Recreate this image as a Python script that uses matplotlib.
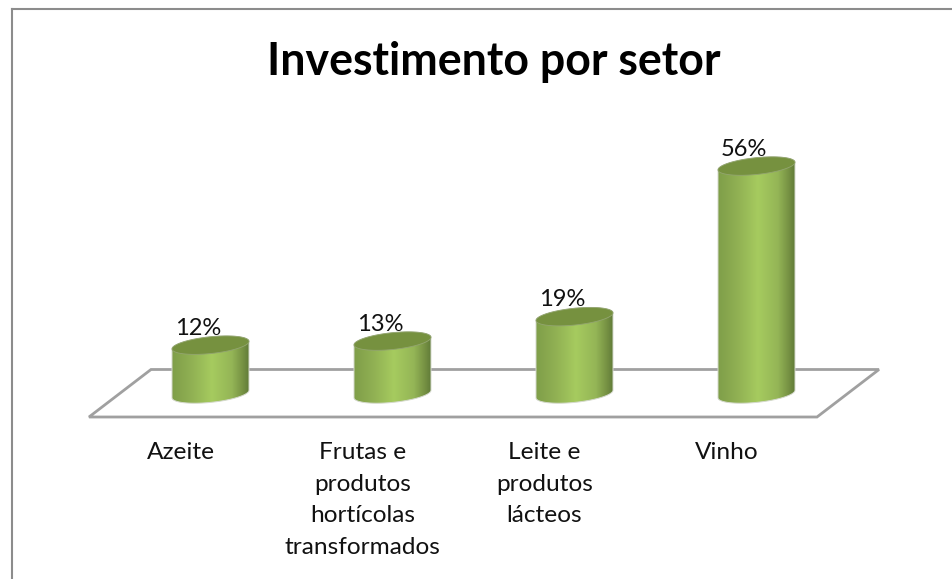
import numpy as np
import matplotlib
matplotlib.use("Agg")
import matplotlib.pyplot as plt
from matplotlib.patches import PathPatch, Polygon
from matplotlib.path import Path
from matplotlib.lines import Line2D
from matplotlib.colors import LinearSegmentedColormap
from matplotlib.transforms import ScaledTranslation

categories = ["Azeite", "Frutas e\nprodutos\nhortícolas\ntransformados",
              "Leite e\nprodutos\nlácteos", "Vinho"]
values = [12, 13, 19, 56]
labels = ["12%", "13%", "19%", "56%"]
title = "Investimento por setor"

W, H = 953, 579
plt.rcParams["font.family"] = ["Lato", "DejaVu Sans"]
fig = plt.figure(figsize=(W / 100, H / 100), dpi=100)

# pixel geometry of the plot
top_px, bot_px = 100, 417
x0_px, dx_px = 210.5, 182.0
base_px, px_per_pct = 394.0, 4.07
ax = fig.add_axes([0, 1 - bot_px / H, 1, (bot_px - top_px) / H])
ax.set_xlim(-x0_px / dx_px, (W - x0_px) / dx_px)
ax.set_ylim((base_px - bot_px) / px_per_pct, (base_px - top_px) / px_per_pct)
ax.patch.set_alpha(0)
for s in ax.spines.values():
    s.set_visible(False)
ax.yaxis.set_visible(False)
ax.set_xticks(range(len(categories)))
ax.set_xticklabels(categories, fontsize=17.6, color="#111111", linespacing=1.62, va="top")
ax.tick_params(axis="x", length=0, pad=18)
shift = ScaledTranslation(-30 / 100, 0, fig.dpi_scale_trans)
for t in ax.get_xticklabels():
    t.set_transform(t.get_transform() + shift)

# floor
to_fig = lambda p: (p[0] / W, 1 - p[1] / H)
floor = Polygon([to_fig(p) for p in [(89, 417), (817, 417), (879, 369.5), (151, 369.5)]],
                closed=True, transform=fig.transFigure, fill=True, facecolor="white",
                edgecolor="#a0a0a0", linewidth=2.0, joinstyle="miter", zorder=-1)
fig.add_artist(floor)

# chart frame (only top and left are visible)
for xs, ys in [((12.5, 12.5), (8.5, 579)), ((12.5, W), (8.5, 8.5))]:
    fig.add_artist(Line2D([x / W for x in xs], [1 - y / H for y in ys],
                          color="#8c8c8c", linewidth=1.5, zorder=-2))

# cylinders
a = 38.5 / dx_px
c = 3.8 / px_per_pct
b = 8.4 / px_per_pct
cmap = LinearSegmentedColormap.from_list(
    "cyl", [(0, "#7f9e49"), (0.25, "#90b053"), (0.52, "#a6cb5f"), (0.78, "#94b556"),
            (0.93, "#748f42"), (1, "#617c38")])
grad = np.linspace(0, 1, 256).reshape(1, -1)

def ell(t, xc, yc):
    return np.column_stack([xc + a * np.cos(t), yc + c * np.cos(t) + b * np.sin(t)])

for i, v in enumerate(values):
    lower = ell(np.linspace(np.pi, 2 * np.pi, 60), i, 0)
    upper = ell(np.linspace(0, np.pi, 60), i, v)
    verts = np.vstack([lower, upper, lower[:1]])
    body = Path(verts)
    im = ax.imshow(grad, cmap=cmap, extent=[i - a, i + a, -3, v + 3], aspect="auto",
                   zorder=2, interpolation="bilinear")
    clip = PathPatch(body, transform=ax.transData, facecolor="none", edgecolor="#d5d9cd",
                     linewidth=0.7, zorder=3)
    ax.add_patch(clip)
    im.set_clip_path(clip)
    cap = Polygon(ell(np.linspace(0, 2 * np.pi, 120), i, v), closed=True,
                  facecolor="#76913f", edgecolor="#93a570", linewidth=0.6, zorder=4)
    ax.add_patch(cap)
    ax.annotate(labels[i], (i, v), xytext=(-12.5, 17), textcoords="offset pixels",
                ha="center", va="center", fontsize=17, color="#111111", zorder=5)

ax.set_xlim(-x0_px / dx_px, (W - x0_px) / dx_px)
ax.set_ylim((base_px - bot_px) / px_per_pct, (base_px - top_px) / px_per_pct)

fig.text(493.5 / W, 1 - 75 / H, title, ha="center", va="baseline",
         fontsize=32.1, fontweight="bold", color="#000000")

fig.savefig("out.png", dpi=100, facecolor="white")
